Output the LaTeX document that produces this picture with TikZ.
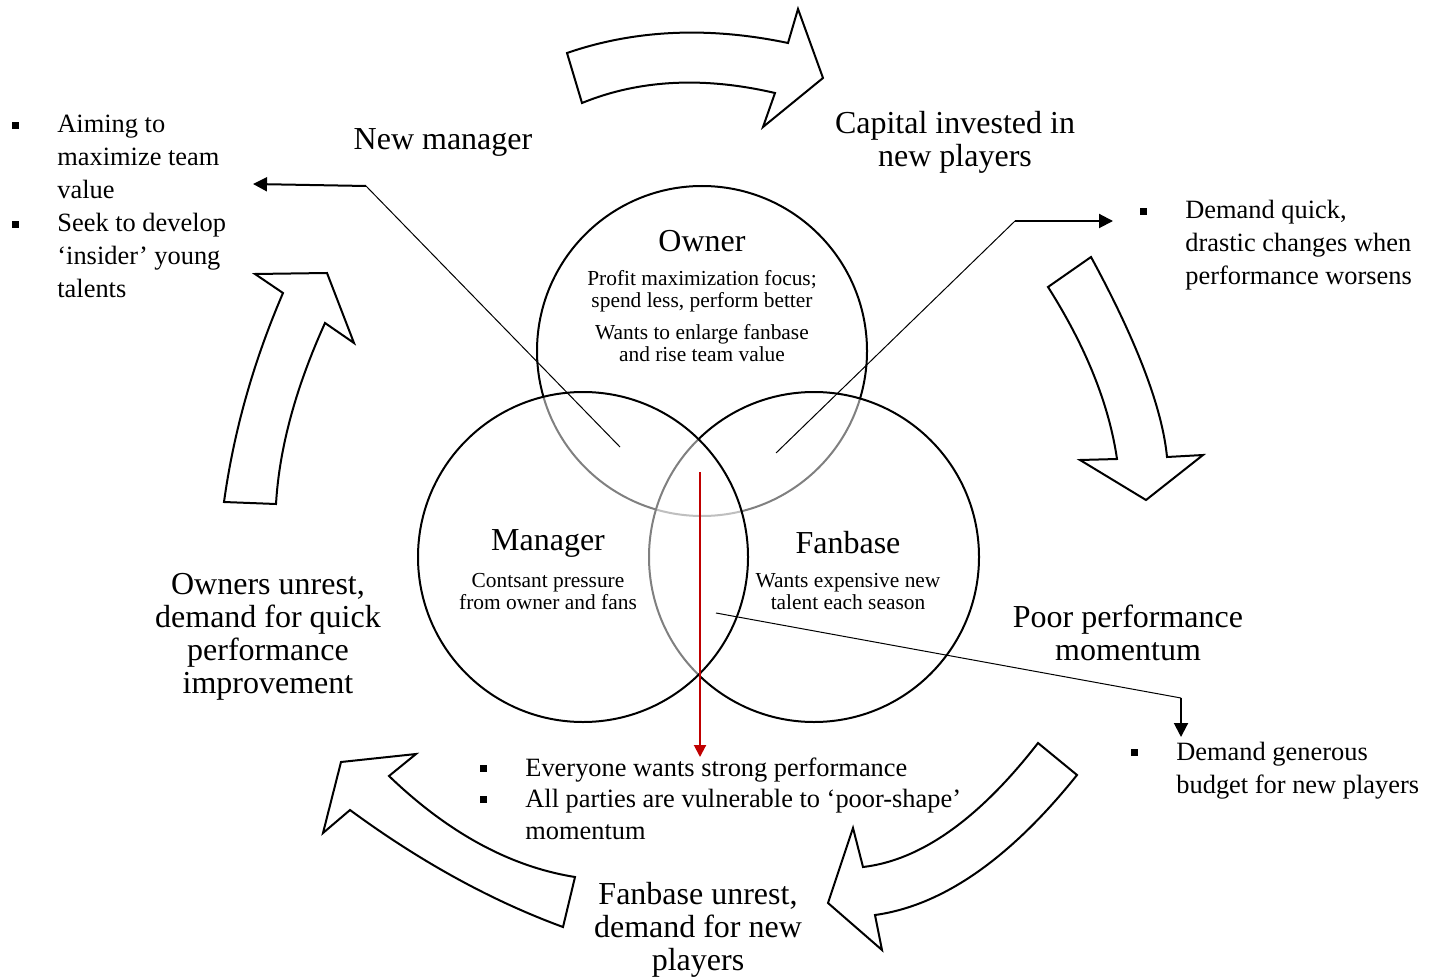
\documentclass[tikz,border=0pt]{standalone}
\usepackage{fontspec}
\setmainfont{Liberation Serif}
\usetikzlibrary{arrows.meta}

\newcommand{\sqbul}{\rule[2.2pt]{3.5pt}{3.5pt}}

\begin{document}
\begin{tikzpicture}[x=0.5pt,y=-0.5pt,
  venn/.style={circle, draw=black, line width=1pt, fill=white, fill opacity=0.5, minimum size=165pt, inner sep=0pt},
  bigtext/.style={font=\fontsize{16}{16.5}\selectfont, align=center, inner sep=0pt},
  intext/.style={font=\fontsize{10.7}{11}\selectfont, align=center, inner sep=0pt},
  listtext/.style={font=\fontsize{13.2}{16.5}\selectfont, inner sep=0pt, anchor=base west},
  blockarrow/.style={draw=black, line width=1pt, fill=white, line join=miter},
  pointer/.style={black, line width=0.5pt},
  pointerhead/.style={black, line width=1pt, -{Triangle[length=7pt,width=7pt]}},
  redarrow/.style={draw={rgb,255:red,192;green,0;blue,0}, line width=1pt, -{Triangle[length=6pt,width=6pt]}}
]
\useasboundingbox (0,0) rectangle (1438,978);
%------------------ cycle arrows
\draw[blockarrow] (567,53) .. controls (634.7,29.7) and (708.3,26.3) .. (788,43) -- (798,9) -- (823,78) -- (763,127) -- (775,93) .. controls (703.3,76.3) and (639,79.7) .. (582,103) -- cycle;
\draw[blockarrow] (1048,287) -- (1091,257) .. controls (1137,341.7) and (1162.3,408.3) .. (1167,457) -- (1203,455) -- (1146,500) -- (1080,460) -- (1117,459) .. controls (1109,404.3) and (1086,347) .. (1048,287) -- cycle;
\draw[blockarrow] (1038,743) -- (1077,775) .. controls (1009.7,859) and (942.3,905.7) .. (875,915) -- (882,950) -- (828,903) -- (853,828) -- (863,867) .. controls (920.7,860.3) and (979,819) .. (1038,743) -- cycle;
\draw[blockarrow] (575,877) -- (563,927) .. controls (491.3,900.7) and (420.3,861.7) .. (350,810) -- (323,833) -- (341,762) -- (416,754) -- (389,776) .. controls (448.3,833) and (510.3,866.7) .. (575,877) -- cycle;
\draw[blockarrow] (224,502) -- (276,504) .. controls (279.3,448) and (295.7,387.7) .. (325,323) -- (354,343) -- (327,273) -- (255,274) -- (283,293) .. controls (253.3,362) and (233.7,431.7) .. (224,502) -- cycle;
%------------------ circles
\node[venn] (owner) at (702,351) {};
\node[venn] (fanbase) at (814,557) {};
\node[venn] (manager) at (583,557) {};
\node[bigtext] (ownerttl) at (702,241) {Owner};
\node[intext] (ownerfocus) at (702,291) {Profit maximization focus;\\ spend less, perform better};
\node[intext] (ownerwant) at (702,343) {Wants to enlarge fanbase\\ and rise team value};
\node[bigtext] (managerttl) at (548,543) {Manager};
\node[intext] (managerpress) at (548,592) {Contsant pressure\\ from owner and fans};
\node[bigtext] (fanbasettl) at (848,543) {Fanbase};
\node[intext] (fanbasewant) at (848,592) {Wants expensive new\\ talent each season};
%------------------ labels
\node[bigtext] (newmgr) at (443,142) {New manager};
\node[bigtext] (capital) at (955,142) {Capital invested in\\ new players};
\node[bigtext] (poorperf) at (1128,633) {Poor performance\\ momentum};
\node[bigtext] (ownunrest) at (268,637) {Owners unrest,\\ demand for quick\\ performance\\ improvement};
\node[bigtext] (fanunrest) at (698,930) {Fanbase unrest,\\ demand for new\\ players};
%------------------ lists
\node[listtext] (ownlist) at (11.5,133) {\begin{tabular}[t]{@{}l@{\hspace{19.25pt}}l@{}}
  \sqbul & Aiming to\\ & maximize team\\ & value\\
  \sqbul & Seek to develop\\ & ‘insider’ young\\ & talents\end{tabular}};
\node[listtext] (fanlist) at (1139.5,219) {\begin{tabular}[t]{@{}l@{\hspace{19.25pt}}l@{}}
  \sqbul & Demand quick,\\ & drastic changes when\\ & performance worsens\end{tabular}};
\node[listtext] (budlist) at (1130.5,760) {\begin{tabular}[t]{@{}l@{\hspace{19.25pt}}l@{}}
  \sqbul & Demand generous\\ & budget for new players\end{tabular}};
\node[listtext, font=\fontsize{13.2}{15.75}\selectfont] (alllist) at (479.5,776) {\begin{tabular}[t]{@{}l@{\hspace{19.25pt}}l@{}}
  \sqbul & Everyone wants strong performance\\
  \sqbul & All parties are vulnerable to ‘poor-shape’\\ & momentum\end{tabular}};
%------------------ pointers
\coordinate (mgrfoot) at (620,447);
\coordinate (mgrbend) at (366,186);
\coordinate (mgrend) at (253,184);
\coordinate (fanfoot) at (776,453);
\coordinate (fanbend) at (1015,221);
\coordinate (fanend) at (1113,221);
\coordinate (budfoot) at (716,613);
\coordinate (budbend) at (1181,698);
\coordinate (budend) at (1181,737);
\coordinate (redtop) at (700,472);
\coordinate (redend) at (700,757);
\draw[pointer] (mgrfoot) -- (mgrbend);
\draw[pointerhead] (mgrbend) -- (mgrend);
\draw[pointer] (fanfoot) -- (fanbend);
\draw[pointerhead] (fanbend) -- (fanend);
\draw[pointer] (budfoot) -- (budbend);
\draw[pointerhead] (budbend) -- (budend);
\draw[redarrow] (redtop) -- (redend);
\end{tikzpicture}
\end{document}
